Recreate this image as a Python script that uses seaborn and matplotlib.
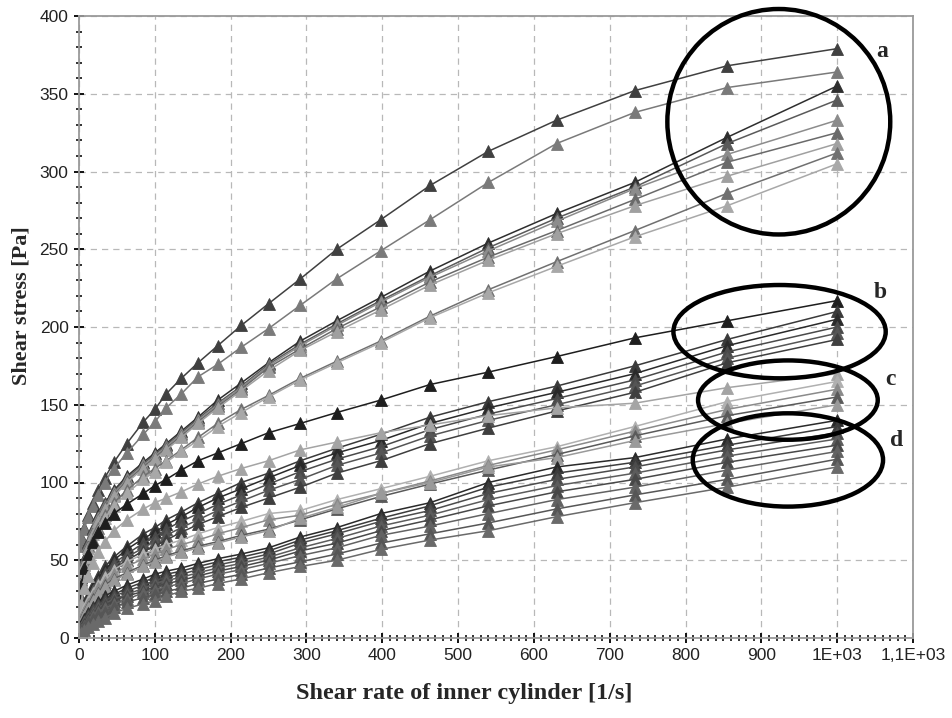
import pandas as pd
import seaborn as sns
import matplotlib.pyplot as plt
from matplotlib.patches import Ellipse
from matplotlib.ticker import MultipleLocator, FuncFormatter

# shear rate points (1/s), logarithmic steps like the rheometer program
shear_rate = [1000, 855, 733, 630, 540, 463, 398, 340, 292, 250, 214, 183, 157, 135, 115, 100,
              85, 63, 46, 34, 25, 18, 12, 7, 3, 1]

# group a
a1 = [379, 368, 352, 333, 313, 291, 269, 250, 231, 215, 201, 188, 177, 167, 157, 147, 139, 125, 113, 103, 95, 87, 79, 71, 65, 60]
a2 = [364, 354, 338, 318, 293, 269, 249, 231, 214, 199, 187, 176, 168, 157, 148, 139, 131, 119, 109, 100, 92, 85, 78, 70, 64, 59]
a3 = [355, 322, 293, 273, 254, 236, 219, 204, 191, 177, 164, 153, 142, 133, 125, 119, 113, 104, 95, 87, 79, 71, 62, 51, 39, 27]
a4 = [346, 318, 290, 270, 251, 233, 217, 202, 189, 176, 162, 151, 141, 132, 124, 118, 112, 103, 94, 86, 78, 70, 61, 50, 38, 26]
a5 = [333, 311, 289, 268, 249, 232, 216, 201, 188, 175, 161, 150, 140, 131, 123, 117, 111, 102, 93, 85, 77, 69, 60, 49, 37, 25]
a6 = [325, 306, 282, 262, 245, 229, 213, 199, 186, 174, 160, 149, 139, 130, 122, 116, 110, 101, 92, 84, 76, 68, 59, 48, 36, 24]
a7 = [318, 297, 278, 260, 243, 227, 211, 197, 185, 172, 159, 148, 138, 129, 121, 115, 109, 100, 91, 83, 75, 67, 58, 47, 35, 23]
a8 = [312, 286, 262, 242, 224, 207, 191, 178, 167, 156, 147, 138, 129, 121, 114, 109, 104, 95, 87, 79, 71, 63, 54, 44, 33, 21]
a9 = [305, 278, 258, 239, 222, 206, 190, 177, 166, 155, 145, 136, 127, 120, 113, 107, 102, 93, 85, 77, 69, 61, 52, 43, 32, 20]

# group b
b1 = [217, 204, 193, 181, 171, 163, 153, 145, 138, 132, 125, 119, 114, 108, 102, 98, 93, 86, 80, 74, 68, 62, 54, 45, 34, 22]
b2 = [210, 192, 175, 162, 152, 142, 131, 122, 114, 106, 100, 93, 87, 81, 76, 71, 67, 59, 52, 46, 40, 34, 27, 20, 13, 8]
b3 = [205, 188, 170, 158, 148, 138, 127, 119, 111, 103, 96, 90, 84, 78, 73, 68, 64, 57, 50, 44, 38, 32, 26, 19, 12, 7]
b4 = [200, 184, 166, 154, 144, 134, 123, 115, 107, 99, 92, 86, 80, 75, 70, 65, 61, 54, 48, 42, 36, 31, 25, 18, 12, 7]
b5 = [196, 180, 162, 150, 140, 130, 119, 111, 102, 95, 88, 82, 76, 71, 66, 62, 58, 52, 46, 40, 35, 30, 24, 17, 11, 6]
b6 = [192, 177, 158, 146, 135, 125, 114, 106, 97, 90, 84, 78, 73, 68, 63, 59, 56, 50, 44, 39, 34, 29, 23, 17, 11, 6]

# group c
c1 = [170, 161, 151, 148, 143, 137, 132, 126, 121, 114, 109, 104, 99, 94, 90, 87, 83, 76, 69, 62, 55, 48, 40, 32, 22, 14]
c2 = [165, 152, 136, 123, 114, 104, 96, 89, 82, 80, 75, 71, 67, 63, 60, 57, 54, 49, 44, 39, 34, 29, 24, 18, 12, 8]
c3 = [160, 147, 133, 121, 111, 101, 93, 86, 79, 76, 71, 67, 63, 60, 57, 54, 51, 46, 41, 36, 32, 27, 22, 17, 11, 7]
c4 = [155, 143, 130, 118, 108, 99, 91, 83, 76, 70, 66, 62, 59, 56, 53, 50, 47, 42, 38, 34, 29, 25, 20, 15, 10, 6]
c5 = [150, 138, 127, 116, 110, 100, 93, 84, 77, 69, 65, 61, 58, 55, 52, 49, 46, 41, 37, 33, 28, 24, 19, 14, 9, 5]

# group d
d1 = [140, 128, 116, 110, 100, 87, 80, 71, 65, 58, 54, 51, 48, 45, 43, 41, 38, 34, 30, 27, 23, 20, 16, 12, 8, 5]
d2 = [136, 124, 113, 106, 97, 85, 77, 69, 63, 56, 52, 49, 46, 43, 41, 39, 36, 32, 28, 25, 22, 19, 15, 11, 7, 4]
d3 = [132, 121, 110, 102, 93, 82, 75, 67, 61, 54, 50, 47, 44, 41, 39, 37, 34, 30, 27, 24, 21, 18, 14, 10, 7, 4]
d4 = [128, 117, 106, 98, 89, 79, 72, 64, 58, 52, 48, 45, 42, 39, 37, 35, 32, 28, 25, 22, 19, 16, 13, 10, 6, 4]
d5 = [124, 113, 102, 94, 85, 76, 69, 61, 56, 50, 46, 43, 40, 37, 35, 33, 30, 27, 24, 21, 18, 15, 12, 9, 6, 3]
d6 = [120, 108, 97, 89, 80, 72, 66, 58, 53, 48, 44, 41, 38, 35, 33, 31, 29, 25, 22, 19, 17, 14, 11, 8, 5, 3]
d7 = [115, 102, 92, 83, 74, 67, 61, 54, 49, 45, 41, 38, 35, 32, 30, 28, 26, 23, 20, 17, 15, 12, 10, 7, 5, 3]
d8 = [110, 97, 87, 78, 69, 63, 57, 50, 46, 42, 38, 35, 32, 30, 27, 24, 22, 19, 16, 13, 11, 9, 7, 5, 3, 2]

curve_names = ['a1', 'a2', 'a3', 'a4', 'a5', 'a6', 'a7', 'a8', 'a9',
               'b1', 'b2', 'b3', 'b4', 'b5', 'b6',
               'c1', 'c2', 'c3', 'c4', 'c5',
               'd1', 'd2', 'd3', 'd4', 'd5', 'd6', 'd7', 'd8']
curve_values = [a1, a2, a3, a4, a5, a6, a7, a8, a9,
                b1, b2, b3, b4, b5, b6,
                c1, c2, c3, c4, c5,
                d1, d2, d3, d4, d5, d6, d7, d8]
curve_colors = ['#404040', '#7a7a7a', '#2e2e2e', '#5a5a5a', '#8c8c8c', '#6a6a6a', '#a0a0a0', '#707070', '#a8a8a8',
                '#1e1e1e', '#3a3a3a', '#2a2a2a', '#4a4a4a', '#555555', '#3f3f3f',
                '#a4a4a4', '#b0b0b0', '#8a8a8a', '#5a5a5a', '#9a9a9a',
                '#2a2a2a', '#3c3c3c', '#4c4c4c', '#5c5c5c', '#484848', '#626262', '#565656', '#6a6a6a']

group_labels = ['a', 'b', 'c', 'd']
# ellipse centre, width, height in data units
ell_x = [923, 924, 935, 935]
ell_y = [332, 197, 153, 114.5]
ell_w = [294, 280, 237, 251]
ell_h = [145, 60, 51, 60]
lab_x = [1059, 1057, 1070, 1079]
lab_y = [377, 222, 166, 127]

rows = []
for name, vals in zip(curve_names, curve_values):
    for r, s in zip(shear_rate, vals):
        rows.append({'curve': name, 'rate': r, 'stress': s})
df = pd.DataFrame(rows)

sns.set_style('white')
fig = plt.figure(figsize=(9.52, 7.18), dpi=100)
ax = fig.add_axes([79 / 952, 1 - 638 / 718, (913 - 79) / 952, (638 - 16) / 718])

sns.lineplot(data=df, x='rate', y='stress', hue='curve', hue_order=curve_names,
             palette=dict(zip(curve_names, curve_colors)), marker='^', markersize=8.5,
             linewidth=1.1, sort=False, estimator=None, legend=False, ax=ax)
for line in ax.lines:
    line.set_markeredgecolor(line.get_color())
    line.set_markeredgewidth(0.6)

ax.set_xlim(0, 1100)
ax.set_ylim(0, 400)
ax.xaxis.set_major_locator(MultipleLocator(100))
ax.xaxis.set_minor_locator(MultipleLocator(10))
ax.yaxis.set_major_locator(MultipleLocator(50))
ax.yaxis.set_minor_locator(MultipleLocator(10))


def fmt_x(v, pos):
    if abs(v - 1000) < 1:
        return '1E+03'
    if abs(v - 1100) < 1:
        return '1,1E+03'
    return f'{v:.0f}'


ax.xaxis.set_major_formatter(FuncFormatter(fmt_x))
tick_font = ['Liberation Sans Narrow', 'Liberation Sans', 'DejaVu Sans']
ax.tick_params(which='major', direction='inout', length=7, width=1.4, color='#111111',
               bottom=True, left=True, labelsize=12.5, pad=4)
ax.tick_params(which='minor', direction='inout', length=4, width=1.2, color='#111111',
               bottom=True, left=True)
for lab in ax.get_xticklabels() + ax.get_yticklabels():
    lab.set_family(tick_font)
    lab.set_color('#222222')

ax.grid(True, which='major', linestyle=(0, (5, 4)), color='#b8b8b8', linewidth=0.9)
ax.set_axisbelow(True)
for side in ['top', 'right', 'left', 'bottom']:
    ax.spines[side].set_visible(True)
    ax.spines[side].set_color('#9a9a9a')
    ax.spines[side].set_linewidth(1.3)

ax.set_xlabel('')
ax.set_ylabel('')
fig.text(464 / 952, 1 - 693 / 718, 'Shear rate of inner cylinder [1/s]', ha='center', va='center',
         family=['Liberation Serif', 'DejaVu Serif'], fontweight='bold', fontsize=17.5)
fig.text(22 / 952, 1 - 306 / 718, 'Shear stress [Pa]', ha='center', va='center', rotation=90,
         family=['Liberation Serif', 'DejaVu Serif'], fontweight='bold', fontsize=16)

for i, g in enumerate(group_labels):
    ax.add_patch(Ellipse((ell_x[i], ell_y[i]), ell_w[i], ell_h[i], fill=False,
                         edgecolor='black', linewidth=3.2, clip_on=False, zorder=5))
    ax.text(lab_x[i], lab_y[i], g, ha='center', va='center', fontsize=17, fontweight='bold',
            family=['Liberation Serif', 'DejaVu Serif'], zorder=6)

fig.savefig('out.png', dpi=100)
